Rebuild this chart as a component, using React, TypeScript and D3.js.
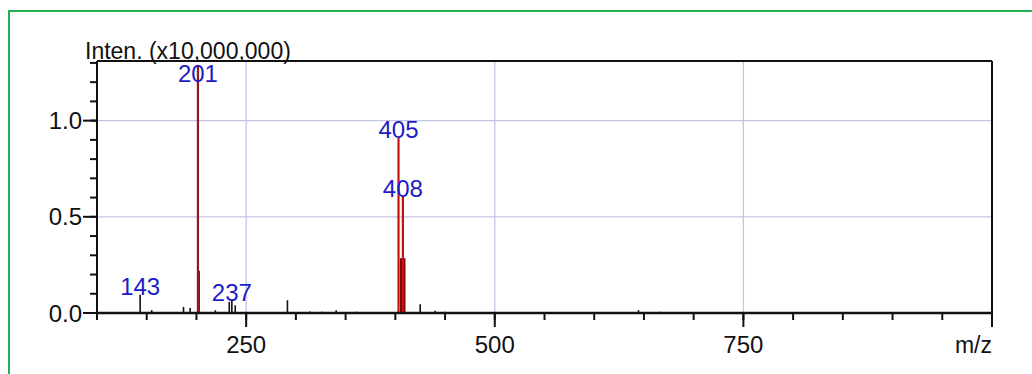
import React from "react";
import * as d3 from "d3";

// ---- data ----
const mainPeakMz = [201.5, 403.2, 407.6];
const mainPeakInt = [1.29, 0.91, 0.605];

const isoPeakMz = [202.2, 405.8, 408.9];
const isoPeakInt = [0.22, 0.285, 0.285];

const minorPeakMz = [143.4, 155, 187, 193.7, 219, 233, 235.6, 239, 291.5, 314, 326, 340.5, 361, 425, 440, 450, 458, 556, 644.5, 666];
const minorPeakInt = [0.095, 0.015, 0.032, 0.026, 0.014, 0.058, 0.062, 0.04, 0.066, 0.008, 0.007, 0.014, 0.007, 0.045, 0.012, 0.007, 0.005, 0.005, 0.015, 0.007];

const labelText = ["143", "201", "237", "405", "408"];
const labelMz = [143.4, 201.5, 235.6, 403.2, 407.6];
const labelInt = [0.095, 1.29, 0.062, 0.91, 0.605];

const xTicksMinor = d3.range(100, 1001, 50);
const xTicksMajor = [250, 500, 750, 1000];
const xTickLabels = ["250", "500", "750"];
const yTicksMinor = d3.range(0, 1.31, 0.1);
const yTicksMajor = [0, 0.5, 1.0];
const yTickLabels = ["0.0", "0.5", "1.0"];
const gridX = [250, 500, 750];
const gridY = [0.5, 1.0];

const W = 1032;
const H = 374;
const left = 97;
const right = 992;
const top = 61;
const bottom = 313;

export default function App() {
  const x = d3.scaleLinear().domain([100, 1000]).range([left, right]);
  const y = d3.scaleLinear().domain([0, 1.31]).range([bottom, top]);
  const font = "'Liberation Sans', Arial, sans-serif";
  const blue = "#1c1cc4";
  const grid = "#c4c4e6";

  return (
    <svg
      width={W}
      height={H}
      style={{ position: "absolute", left: 0, top: 0, background: "#fff" }}
      fontFamily={font}
    >
      <rect x={0} y={0} width={W} height={H} fill="#fff" />
      {/* green frame */}
      <rect x={9} y={11} width={W + 20} height={H + 20} fill="none" stroke="#1fb050" strokeWidth={2} />

      {/* grid */}
      {gridX.map((v) => (
        <line key={"gx" + v} x1={x(v)} x2={x(v)} y1={top} y2={bottom} stroke={grid} strokeWidth={1.3} />
      ))}
      {gridY.map((v) => (
        <line key={"gy" + v} x1={left} x2={right} y1={y(v)} y2={y(v)} stroke={grid} strokeWidth={1.3} />
      ))}

      {/* minor peaks */}
      {minorPeakMz.map((m, i) => (
        <line key={"mp" + i} x1={x(m)} x2={x(m)} y1={y(0)} y2={y(minorPeakInt[i])} stroke="#111" strokeWidth={1.6} />
      ))}
      {/* isotope peaks */}
      {isoPeakMz.map((m, i) => (
        <line key={"ip" + i} x1={x(m)} x2={x(m)} y1={y(0)} y2={y(isoPeakInt[i])} stroke="#7a0a0a" strokeWidth={2.6} />
      ))}
      {/* main peaks */}
      {mainPeakMz.map((m, i) => (
        <line key={"pp" + i} x1={x(m)} x2={x(m)} y1={y(0)} y2={y(mainPeakInt[i])} stroke={i === 0 ? "#961818" : "#cc1111"} strokeWidth={2.2} />
      ))}

      {/* frame: top and right */}
      <line x1={left} x2={right} y1={top} y2={top} stroke="#111" strokeWidth={2} />
      <line x1={right} x2={right} y1={top} y2={bottom} stroke="#111" strokeWidth={2} />
      {/* axes */}
      <line x1={left} x2={left} y1={top} y2={bottom + 1} stroke="#111" strokeWidth={2} />
      <line x1={left - 1} x2={right + 1} y1={bottom} y2={bottom} stroke="#111" strokeWidth={2.4} />

      {/* x ticks */}
      {xTicksMinor.map((v) => (
        <line key={"xt" + v} x1={x(v)} x2={x(v)} y1={bottom} y2={bottom + 7} stroke="#111" strokeWidth={2} />
      ))}
      {xTicksMajor.map((v) => (
        <line key={"xT" + v} x1={x(v)} x2={x(v)} y1={bottom} y2={bottom + 14} stroke="#111" strokeWidth={2} />
      ))}
      {xTickLabels.map((t, i) => (
        <text key={"xl" + t} x={x(xTicksMajor[i])} y={353} textAnchor="middle" fontSize={24} fill="#111">
          {t}
        </text>
      ))}
      <text x={x(1000)} y={353} textAnchor="end" fontSize={23} fill="#111">
        m/z
      </text>

      {/* y ticks */}
      {yTicksMinor.map((v, i) => (
        <line key={"yt" + i} x1={left - 7} x2={left} y1={y(v)} y2={y(v)} stroke="#111" strokeWidth={2} />
      ))}
      {yTicksMajor.map((v) => (
        <line key={"yT" + v} x1={left - 14} x2={left} y1={y(v)} y2={y(v)} stroke="#111" strokeWidth={2} />
      ))}
      {yTickLabels.map((t, i) => (
        <text key={"yl" + t} x={82} y={y(yTicksMajor[i]) + 8.5} textAnchor="end" fontSize={24} fill="#111">
          {t}
        </text>
      ))}

      {/* title */}
      <text x={85} y={59} fontSize={23} fill="#111">
        Inten. (x10,000,000)
      </text>

      {/* peak labels */}
      {labelText.map((t, i) => (
        <text
          key={"pl" + t}
          x={x(labelMz[i])}
          y={Math.max(y(labelInt[i]), top + 21)}
          textAnchor="middle"
          fontSize={24}
          fill={blue}
        >
          {t}
        </text>
      ))}
    </svg>
  );
}
